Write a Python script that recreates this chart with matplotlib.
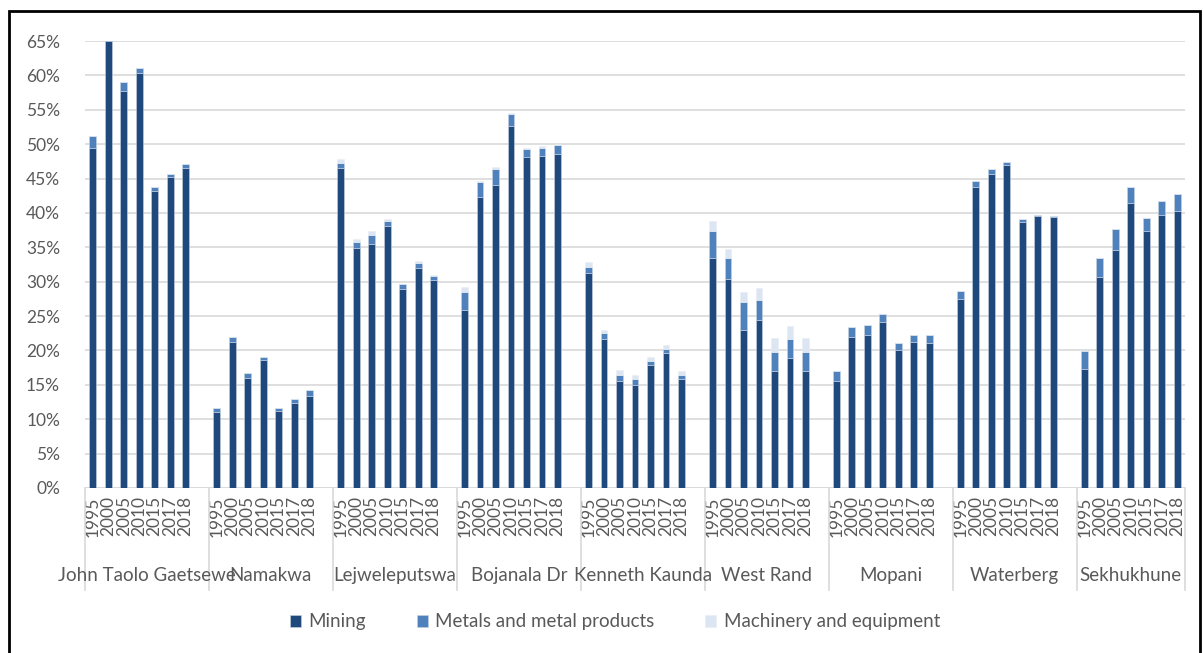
import numpy as np
import matplotlib.pyplot as plt
from matplotlib.patches import Rectangle

plt.rcParams['font.family'] = ['Lato', 'DejaVu Sans']

districts = ["John Taolo Gaetsewe", "Namakwa", "Lejweleputswa", "Bojanala Dr",
             "Kenneth Kaunda", "West Rand", "Mopani", "Waterberg", "Sekhukhune"]
years = ["1995", "2000", "2005", "2010", "2015", "2017", "2018"]

# shares in percent, one row per district, one column per year
mining = [
    [49.5, 65.0, 57.7, 60.4, 43.2, 45.2, 46.6],
    [11.1, 21.3, 16.0, 18.6, 11.2, 12.3, 13.4],
    [46.5, 34.9, 35.5, 38.1, 28.9, 32.0, 30.2],
    [25.9, 42.3, 44.1, 52.7, 48.1, 48.3, 48.6],
    [31.3, 21.7, 15.5, 15.0, 17.9, 19.7, 15.8],
    [33.5, 30.4, 23.0, 24.4, 17.0, 18.9, 17.0],
    [15.6, 21.9, 22.2, 24.1, 20.1, 21.2, 21.1],
    [27.5, 43.7, 45.7, 46.9, 38.7, 39.5, 39.4],
    [17.3, 30.7, 34.6, 41.5, 37.3, 39.7, 40.3],
]
metals = [
    [1.7, 0.1, 1.4, 0.7, 0.5, 0.5, 0.5],
    [0.6, 0.6, 0.7, 0.5, 0.5, 0.6, 0.8],
    [0.8, 0.9, 1.3, 0.7, 0.7, 0.7, 0.6],
    [2.6, 2.2, 2.3, 1.7, 1.2, 1.2, 1.3],
    [0.8, 0.9, 0.9, 0.8, 0.6, 0.5, 0.6],
    [3.8, 3.1, 4.0, 2.9, 2.8, 2.8, 2.8],
    [1.4, 1.5, 1.5, 1.2, 1.0, 1.1, 1.1],
    [1.1, 0.9, 0.7, 0.5, 0.4, 0.2, 0.2],
    [2.6, 2.8, 3.0, 2.2, 1.9, 2.1, 2.4],
]
machinery = [
    [0.0, 0.0, 0.0, 0.0, 0.0, 0.0, 0.0],
    [0.0, 0.0, 0.0, 0.0, 0.0, 0.0, 0.0],
    [0.5, 0.4, 0.5, 0.3, 0.1, 0.3, 0.2],
    [0.8, 0.1, 0.3, 0.1, 0.1, 0.2, 0.1],
    [0.7, 0.4, 0.7, 0.6, 0.6, 0.6, 0.6],
    [1.5, 1.3, 1.5, 1.8, 2.0, 1.9, 2.0],
    [0.0, 0.0, 0.0, 0.0, 0.0, 0.0, 0.0],
    [0.0, 0.0, 0.0, 0.0, 0.0, 0.0, 0.0],
    [0.0, 0.0, 0.0, 0.0, 0.0, 0.0, 0.0],
]

c_min, c_met, c_mac = "#1f497d", "#4f81bd", "#dce6f2"
grey = "#595959"

fig = plt.figure(figsize=(12.03, 6.53), dpi=100)
ax = fig.add_axes([85/1203, 165/653, 1100/1203, 447/653])

n = len(years)
slot = n + 1  # one empty slot after each group
x = np.array([g * slot + j for g in range(len(districts)) for j in range(n)])
m = np.array(mining).ravel()
me = np.array(metals).ravel()
ma = np.array(machinery).ravel()

w = 0.44
ax.bar(x, m, w, color=c_min, edgecolor="#c9d3e0", linewidth=0.4, label="Mining", zorder=3)
ax.bar(x, me, w, bottom=m, color=c_met, edgecolor="#c9d3e0", linewidth=0.4,
       label="Metals and metal products", zorder=3)
ax.bar(x, ma, w, bottom=m + me, color=c_mac, edgecolor="#e8eef6", linewidth=0.4,
       label="Machinery and equipment", zorder=3)

ax.set_xlim(-0.5, len(districts) * slot - 1.5)
ax.set_ylim(0, 65)
ax.set_yticks(np.arange(0, 66, 5))
ax.set_yticklabels([f"{v}%" for v in range(0, 66, 5)], color=grey, fontsize=12.5)
ax.tick_params(axis="y", length=0, pad=18)
ax.grid(axis="y", color="#d9d9d9", linewidth=1.2, zorder=0)
for s in ax.spines.values():
    s.set_visible(False)
ax.axhline(0, color="#d9d9d9", linewidth=1.2, zorder=1)

# year labels
ax.set_xticks(x)
ax.set_xticklabels(years * len(districts), rotation=90, color=grey, fontsize=12.5,
                   va="top", ha="center")
ax.tick_params(axis="x", length=0, pad=6)

# group separators and district names
tr = ax.get_xaxis_transform()
edges = [g * slot - 0.5 for g in range(len(districts))] + [len(districts) * slot - 1.5]
for e in edges:
    ax.plot([e, e], [0, -0.228], transform=tr, color="#d9d9d9", linewidth=1.2, clip_on=False)
for g, name in enumerate(districts):
    ax.text((edges[g] + edges[g + 1]) / 2, -0.195, name, transform=tr, ha="center",
            va="center", color=grey, fontsize=13.5)

fig.legend(loc="center", bbox_to_anchor=(615/1203, 1 - 622/653), ncol=3, frameon=False,
           fontsize=13.5, handlelength=0.6, handleheight=0.6, handletextpad=0.4,
           columnspacing=2.7, labelcolor=grey)

# outer frame
fig.patches.append(Rectangle((9/1203, -0.05), 1191/1203, 1.05 - 11/653, transform=fig.transFigure,
                             fill=False, edgecolor="black", linewidth=2))

fig.savefig("out.png", dpi=100)
